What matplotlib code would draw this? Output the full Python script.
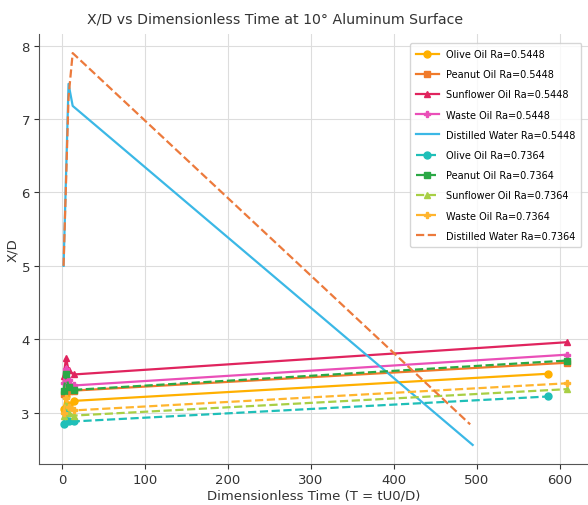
import matplotlib
matplotlib.use("Agg")
import matplotlib.pyplot as plt

# Time points per series
t_oil_a = [2, 5, 8, 14, 586]      # Olive (both Ra)
t_oil_b = [2, 5, 8, 14, 609]      # other oils
t_water_a = [2, 8, 13, 495]
t_water_b = [2, 8, 13, 492]

olive_05 = [3.05, 3.22, 3.10, 3.16, 3.53]
peanut_05 = [3.25, 3.45, 3.30, 3.30, 3.68]
sunflower_05 = [3.50, 3.74, 3.58, 3.52, 3.96]
waste_05 = [3.40, 3.60, 3.44, 3.37, 3.79]
water_05 = [5.0, 7.48, 7.18, 2.56]

olive_07 = [2.85, 3.00, 2.88, 2.88, 3.22]
peanut_07 = [3.30, 3.52, 3.35, 3.31, 3.71]
sunflower_07 = [2.95, 3.12, 3.00, 2.96, 3.32]
waste_07 = [3.00, 3.20, 3.08, 3.03, 3.40]
water_07 = [5.0, 7.30, 7.90, 2.84]

labels = ["Olive Oil Ra=0.5448", "Peanut Oil Ra=0.5448", "Sunflower Oil Ra=0.5448",
          "Waste Oil Ra=0.5448", "Distilled Water Ra=0.5448",
          "Olive Oil Ra=0.7364", "Peanut Oil Ra=0.7364", "Sunflower Oil Ra=0.7364",
          "Waste Oil Ra=0.7364", "Distilled Water Ra=0.7364"]

fig = plt.figure(figsize=(5.88, 5.06), dpi=100)
ax = fig.add_axes([39/588, 1-465/506, (588-39)/588, (465-35)/506])

lw = 1.6
ms = 5
ax.plot(t_oil_a, olive_05, '-o', color='#ffb000', lw=lw, ms=ms, label=labels[0])
ax.plot(t_oil_b, peanut_05, '-s', color='#f07a2a', lw=lw, ms=ms, label=labels[1])
ax.plot(t_oil_b, sunflower_05, '-^', color='#e0245e', lw=lw, ms=ms, label=labels[2])
ax.plot(t_oil_b, waste_05, '-P', color='#ea4fb8', lw=lw, ms=ms, label=labels[3])
ax.plot(t_water_a, water_05, '-', color='#3bb8e6', lw=lw, label=labels[4])
ax.plot(t_oil_a, olive_07, '--o', color='#1fbfb8', lw=lw, ms=ms, label=labels[5])
ax.plot(t_oil_b, peanut_07, '--s', color='#2aa845', lw=lw, ms=ms, label=labels[6])
ax.plot(t_oil_b, sunflower_07, '--^', color='#a8cf45', lw=lw, ms=ms, label=labels[7])
ax.plot(t_oil_b, waste_07, '--P', color='#ffb52e', lw=lw, ms=ms, label=labels[8])
ax.plot(t_water_b, water_07, '--', color='#ec7a3c', lw=lw, label=labels[9])

ax.set_xlim(-27.6, 634)
ax.set_ylim(2.30, 8.16)
ax.set_xticks([0, 100, 200, 300, 400, 500, 600])
ax.set_yticks([3, 4, 5, 6, 7, 8])
ax.grid(True, color='#dddddd', lw=0.8)
ax.set_axisbelow(True)
for s in ['top', 'right']:
    ax.spines[s].set_visible(False)
for s in ['left', 'bottom']:
    ax.spines[s].set_color('#555555')
ax.tick_params(colors='#333333', labelsize=9.5, pad=3)

ax.set_xlabel("Dimensionless Time (T = tU0/D)", fontsize=9.5, color='#333333', labelpad=2)
ax.set_ylabel("X/D", fontsize=9.5, color='#333333', labelpad=2)
ax.set_title("X/D vs Dimensionless Time at 10° Aluminum Surface", fontsize=10.2,
             color='#333333', x=0.43, pad=8)

leg = ax.legend(loc='upper right', fontsize=7, frameon=True, borderpad=0.6,
                labelspacing=1.05, handlelength=2.3, bbox_to_anchor=(0.997, 0.99))
leg.get_frame().set_edgecolor('#cccccc')

fig.savefig("out.png", dpi=100)
